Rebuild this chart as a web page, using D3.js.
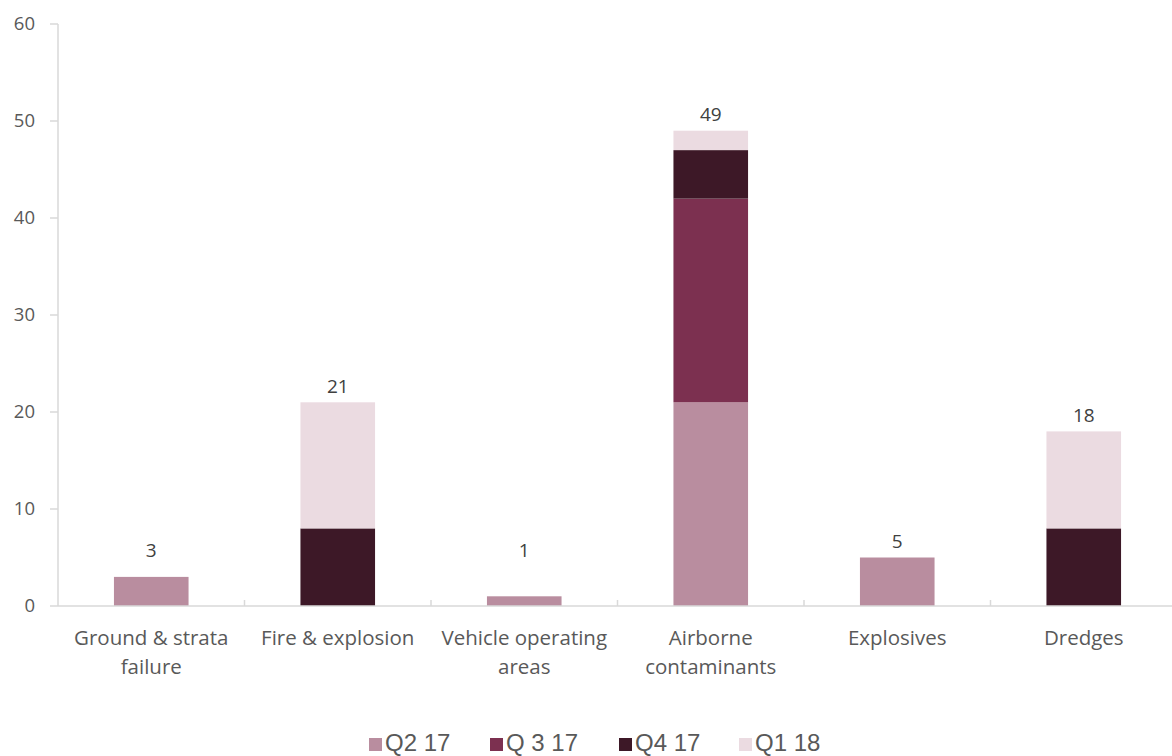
<!DOCTYPE html>
<html>
<head>
<meta charset="utf-8">
<script src="https://cdn.jsdelivr.net/npm/d3@7"></script>
<style>
  html, body { margin: 0; padding: 0; background: #fff; }
  svg { display: block; }
</style>
</head>
<body>
<svg id="chart" width="1172" height="756"></svg>
<script>
// Hazard categories (two-line labels where the text wraps)
const categories = [
  ["Ground & strata", "failure"],
  ["Fire & explosion"],
  ["Vehicle operating", "areas"],
  ["Airborne", "contaminants"],
  ["Explosives"],
  ["Dredges"]
];
const seriesNames = ["Q2 17", "Q 3 17", "Q4 17", "Q1 18"];
const q2_17 = [3, 0, 1, 21, 5, 0];
const q3_17 = [0, 0, 0, 21, 0, 0];
const q4_17 = [0, 8, 0, 5, 0, 8];
const q1_18 = [0, 13, 0, 2, 0, 10];
const yTicks = [0, 10, 20, 30, 40, 50, 60];
const colors = ["#b98d9f", "#7c3050", "#3d1827", "#ebdbe1"];

const seriesValues = [q2_17, q3_17, q4_17, q1_18];
const keys = categories.map(c => c.join(" "));
const rows = keys.map((k, i) => {
  const r = { key: k };
  seriesNames.forEach((s, j) => r[s] = seriesValues[j][i]);
  return r;
});
const totals = keys.map((k, i) => seriesValues.reduce((a, s) => a + s[i], 0));

const svg = d3.select("#chart");
const x = d3.scaleBand().domain(keys).range([58, 1177]).paddingInner(0.6).paddingOuter(0.3);
const y = d3.scaleLinear().domain([0, 60]).range([606, 24]);

const stack = d3.stack().keys(seriesNames)(rows);
const font = "'Open Sans', Lato, sans-serif";

// axes in light grey, no gridlines
const axisColor = "#d9d9d9";
svg.append("line").attr("x1", 58).attr("x2", 58).attr("y1", y(60)).attr("y2", y(0))
  .attr("stroke", axisColor).attr("stroke-width", 1.5);

const yAxis = svg.append("g");
yAxis.selectAll("line").data(yTicks).join("line")
  .attr("x1", 50).attr("x2", 58).attr("y1", d => y(d)).attr("y2", d => y(d))
  .attr("stroke", axisColor).attr("stroke-width", 1.5);
yAxis.selectAll("text").data(yTicks).join("text")
  .attr("x", 35).attr("y", d => y(d)).attr("dy", "0.35em")
  .attr("text-anchor", "end")
  .attr("font-family", font).attr("font-size", 18.5)
  .attr("fill", "#595959").text(d => d);

// stacked bars
svg.append("g").selectAll("g").data(stack).join("g")
  .attr("fill", (d, i) => colors[i])
  .selectAll("rect").data(d => d).join("rect")
  .attr("x", d => x(d.data.key))
  .attr("width", x.bandwidth())
  .attr("y", d => y(d[1]))
  .attr("height", d => y(d[0]) - y(d[1]));

// x axis line with short inward ticks between categories
svg.append("line").attr("x1", 58).attr("x2", 1177).attr("y1", y(0)).attr("y2", y(0))
  .attr("stroke", axisColor).attr("stroke-width", 1.5);
const step = x.step();
const firstEdge = x(keys[0]) - (step - x.bandwidth()) / 2;
const boundaries = d3.range(1, keys.length).map(i => firstEdge + i * step);
svg.append("g").selectAll("line").data(boundaries).join("line")
  .attr("x1", d => d).attr("x2", d => d).attr("y1", y(0) - 6).attr("y2", y(0))
  .attr("stroke", axisColor).attr("stroke-width", 1.5);

// category labels
const xl = svg.append("g").attr("font-family", font)
  .attr("font-size", 20.5).attr("fill", "#595959").attr("text-anchor", "middle");
categories.forEach((lines, i) => {
  const cx = x(keys[i]) + x.bandwidth() / 2;
  lines.forEach((t, j) => {
    xl.append("text").attr("x", cx).attr("y", 645 + j * 29).text(t);
  });
});

// total labels above each stack, kept clear of the axis for short bars
svg.append("g").selectAll("text").data(keys).join("text")
  .attr("x", d => x(d) + x.bandwidth() / 2)
  .attr("y", (d, i) => Math.min(y(totals[i]) - 16, y(5.7)))
  .attr("dy", "0.35em")
  .attr("text-anchor", "middle")
  .attr("font-family", font).attr("font-size", 19)
  .attr("fill", "#404040").text((d, i) => totals[i]);

// legend
const legendX = [369, 490, 619, 739];
const lg = svg.append("g");
seriesNames.forEach((s, i) => {
  lg.append("rect").attr("x", legendX[i]).attr("y", 738).attr("width", 13).attr("height", 13).attr("fill", colors[i]);
  lg.append("text").attr("x", legendX[i] + 16).attr("y", 751)
    .attr("font-family", "'Liberation Sans', Arial, sans-serif").attr("font-size", 24)
    .attr("fill", "#595959").text(s);
});
</script>
</body>
</html>
